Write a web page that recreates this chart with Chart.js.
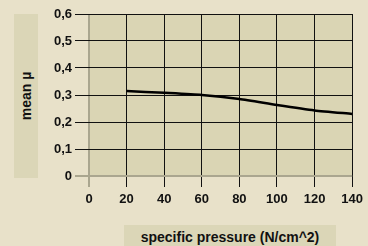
<!DOCTYPE html>
<html><head><meta charset="utf-8">
<script src="https://cdn.jsdelivr.net/npm/chart.js@4/dist/chart.umd.min.js"></script>
<style>
html,body{margin:0;padding:0;background:#e8e1c9;}
#wrap{position:relative;width:368px;height:246px;overflow:hidden;}
canvas{position:absolute;left:0;top:0;}
.tbox{position:absolute;background:#dbd6b7;font-family:"Liberation Sans",Arial,sans-serif;font-weight:bold;font-size:14px;color:#111;display:flex;align-items:center;justify-content:center;}
#ytitle{left:14px;top:14px;width:24px;height:164px;}
#ytitle span{transform:rotate(-90deg);white-space:nowrap;display:block;}
#xtitle{left:124px;top:225px;width:212px;height:21px;padding-top:2px;box-sizing:border-box;}
</style></head>
<body><div id="wrap"><canvas id="c" width="368" height="246"></canvas>
<div class="tbox" id="ytitle"><span>mean µ</span></div>
<div class="tbox" id="xtitle">specific pressure (N/cm^2)</div></div>
<script>
const pressure = [20, 40, 60, 80, 100, 120, 140];
const meanMu = [0.315, 0.308, 0.300, 0.285, 0.263, 0.243, 0.230];
const xTicks = [0, 20, 40, 60, 80, 100, 120, 140];
const yTicks = [0, 0.1, 0.2, 0.3, 0.4, 0.5, 0.6];

const bgPlugin = {
  id: 'plotBg',
  beforeDraw(chart) {
    const a = chart.chartArea, ctx = chart.ctx;
    ctx.save(); ctx.fillStyle = '#dad5b4';
    ctx.fillRect(a.left, a.top, a.right - a.left, a.bottom - a.top);
    ctx.restore();
  }
};
const gridColor = c => (c.tick && c.tick.value === 0) ? '#aaa68f' : '#111';
const gridWidth = c => (c.tick && c.tick.value === 0) ? 2 : 1;

new Chart(document.getElementById('c'), {
  type: 'line',
  data: { datasets: [{ data: pressure.map((x, i) => ({x, y: meanMu[i]})),
    borderColor: '#000', borderWidth: 2.5, pointRadius: 0, tension: 0.2, fill: false }] },
  options: {
    responsive: false, animation: false,
    layout: { padding: { left: 0, top: 14, right: 15, bottom: 0 } },
    plugins: { legend: { display: false }, tooltip: { enabled: false } },
    scales: {
      x: { type: 'linear', min: 0, max: 140,
        afterBuildTicks: s => { s.ticks = xTicks.map(v => ({value: v})); },
        afterFit: s => { s.height = 70; },
        border: { display: false },
        grid: { color: gridColor, lineWidth: gridWidth, tickLength: 11, tickColor: gridColor },
        ticks: { padding: 5, color: '#111', font: { family: 'Liberation Sans', size: 13, weight: 'bold' } } },
      y: { min: 0, max: 0.6,
        afterBuildTicks: s => { s.ticks = yTicks.map(v => ({value: v})); },
        afterFit: s => { s.width = 89; },
        border: { display: false },
        grid: { color: gridColor, lineWidth: gridWidth, tickLength: 14, tickColor: gridColor },
        ticks: { padding: 3, color: '#111', font: { family: 'Liberation Sans', size: 13, weight: 'bold' },
          callback: v => v === 0 ? '0' : v.toFixed(1).replace('.', ',') } }
    }
  },
  plugins: [bgPlugin]
});
</script></body></html>
